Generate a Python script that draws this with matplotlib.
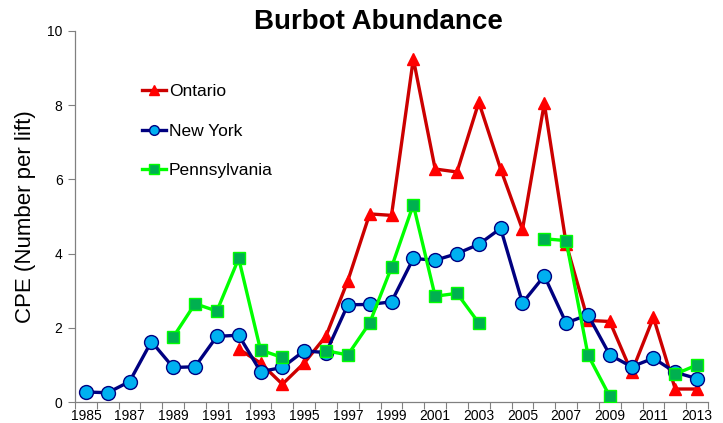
import numpy as np
import matplotlib
matplotlib.use("Agg")
import matplotlib.pyplot as plt

years = list(range(1985, 2014))
tick_labels = [str(y) for y in years[::2]]

nan = np.nan
ontario = [nan, nan, nan, nan, nan, nan, nan, 1.43, 1.05, 0.48, 1.05, 1.78, 3.27, 5.07, 5.03,
           9.25, 6.28, 6.2, 8.08, 6.28, 4.65, 8.05, 4.27, 2.2, 2.17, 0.8, 2.28, 0.35, 0.35]
new_york = [0.27, 0.25, 0.55, 1.63, 0.93, 0.95, 1.77, 1.8, 0.82, 0.93, 1.38, 1.33, 2.62, 2.63, 2.7,
            3.87, 3.82, 4.0, 4.25, 4.68, 2.67, 3.4, 2.13, 2.35, 1.27, 0.95, 1.18, 0.8, 0.63]
pennsylvania = [nan, nan, nan, nan, 1.75, 2.65, 2.45, 3.87, 1.4, 1.2, nan, 1.38, 1.27, 2.13, 3.63,
                5.32, 2.85, 2.93, 2.13, nan, nan, 4.4, 4.35, 1.27, 0.15, nan, nan, 0.75, 1.0]

plt.rcParams['font.family'] = ['Liberation Sans', 'DejaVu Sans']

fig = plt.figure(figsize=(7.23, 4.23), dpi=100)
ax = fig.add_axes([75/723, 1 - 402/423, (708-75)/723, (402-31)/423])

x = np.arange(len(years))
ax.plot(x, ontario, color='#CC0000', lw=2.4, marker='^', ms=8.5,
        mfc='#FF0000', mec='#FF0000', label='Ontario', zorder=3)
ax.plot(x, new_york, color='#000080', lw=2.4, marker='o', ms=10,
        mfc='#00B0F0', mec='#000080', mew=1.0, label='New York', zorder=4)
ax.plot(x, pennsylvania, color='#00FF00', lw=2.4, marker='s', ms=8,
        mfc='#00B050', mec='#00FF00', mew=1.0, label='Pennsylvania', zorder=5)

ax.set_xlim(-0.5, len(years) - 0.5)
ax.set_ylim(0, 10)
ax.set_yticks(np.arange(0, 11, 2))
ax.set_xticks(np.arange(-0.5, len(years), 1))
ax.set_xticklabels([])
ax.set_xticks(x[::2], minor=True)
ax.set_xticklabels(tick_labels, minor=True, fontsize=10)
ax.tick_params(axis='x', which='major', direction='out', length=5, width=0.8, color='#808080')
ax.tick_params(axis='x', which='minor', length=0, pad=5)
ax.tick_params(axis='y', direction='out', length=5, width=0.8, color='#808080', labelsize=10, pad=4)

for s in ['top', 'right']:
    ax.spines[s].set_visible(False)
for s in ['left', 'bottom']:
    ax.spines[s].set_color('#808080')
    ax.spines[s].set_linewidth(0.9)

ax.set_ylabel('CPE (Number per lift)', fontsize=16, labelpad=8)
fig.text(378/723, 1 - 22/423, 'Burbot Abundance', fontsize=20, fontweight='bold',
         ha='center', va='center')

leg = ax.legend(loc='upper left', bbox_to_anchor=(0.095, 0.875), frameon=False,
                fontsize=12.5, handlelength=1.4, handletextpad=0.15, labelspacing=1.4,
                borderaxespad=0)
for h in leg.legend_handles:
    h.set_markersize(7)

fig.savefig('out.png', dpi=100)
